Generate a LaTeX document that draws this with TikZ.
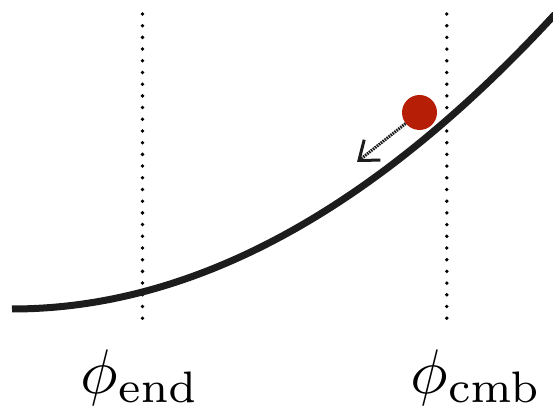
\documentclass[tikz,border=0pt]{standalone}
\usetikzlibrary{arrows.meta}
\definecolor{curvecol}{HTML}{1C1C1C}
\definecolor{ballcol}{RGB}{182,30,6}
\tikzset{
  curveline/.style={line width=7pt, curvecol},
  dotline/.style={line width=3.8pt, black, line cap=round, dash pattern=on 0pt off 11.7pt},
  ballnode/.style={circle, fill=ballcol, minimum size=35pt, inner sep=0pt},
  pushline/.style={line width=3pt, curvecol, dash pattern=on 1.6pt off 0.9pt,
    -{Straight Barb[length=17pt, width=26pt, line width=3pt]}},
  lbl/.style={inner sep=0pt, scale=6.3, transform shape=false}
}
\begin{document}
\begin{tikzpicture}[x=1pt,y=1pt]
\useasboundingbox (0,0) rectangle (553,411);
% dotted markers
\coordinate (e1) at (142.5,397);
\coordinate (e2) at (142.5,85);
\coordinate (c1) at (446.8,397);
\coordinate (c2) at (446.8,85);
\draw[dotline] (e1) -- (e2);
\draw[dotline] (c1) -- (c2);
% potential curve (parabola as cubic Bezier)
\coordinate (p0) at (12,102);
\coordinate (q1) at (193,102);
\coordinate (q2) at (374,200.3);
\coordinate (p1) at (555,396.8);
\draw[curveline] (p0) .. controls (q1) and (q2) .. (p1);
% ball and arrow
\node[ballnode] (ball) at (419.5,298.5) {};
\coordinate (tip) at (357,249);
\draw[pushline] (ball) -- (tip);
% labels
\node[lbl, anchor=base] (lend) at (140,18) {$\phi_{\mathrm{end}}$};
\node[lbl, anchor=base] (lcmb) at (476,18) {$\phi_{\mathrm{cmb}}$};
\end{tikzpicture}
\end{document}
